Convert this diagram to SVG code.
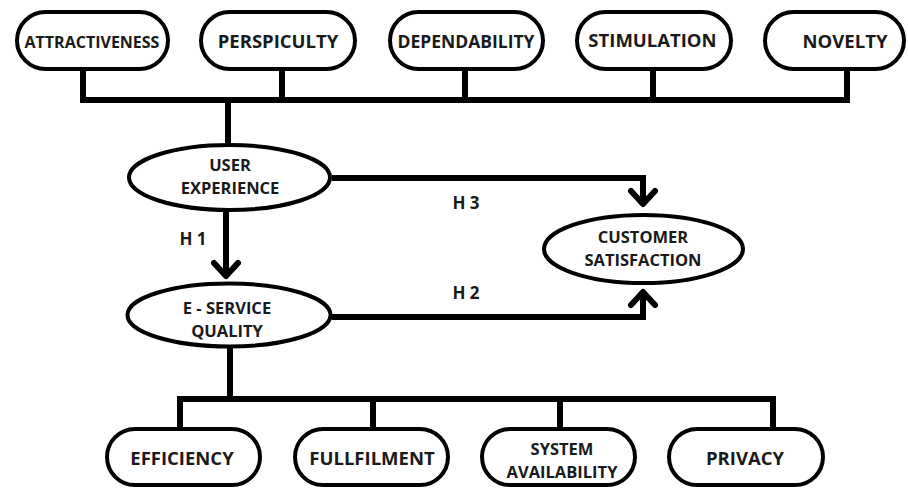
<svg xmlns="http://www.w3.org/2000/svg" width="908" height="489" viewBox="0 0 908 489">
<style>
.box{fill:#fff;stroke:#000;stroke-width:4}
.t{font-family:"Open Sans","DejaVu Sans",sans-serif;font-weight:700;font-size:18.5px;fill:#1a1a1a;text-anchor:middle}
.t2{font-size:16.5px}
.c{fill:none;stroke:#000;stroke-width:6;stroke-linejoin:miter}
.ah{fill:none;stroke:#000;stroke-width:6;stroke-linecap:round;stroke-linejoin:round}
.lbl{font-family:"Open Sans","DejaVu Sans",sans-serif;font-weight:700;font-size:17px;fill:#1a1a1a;text-anchor:middle}
</style>
<rect width="908" height="489" fill="#fff"/>
<g id="connectors">
<path class="c" d="M83 70V100M282 70V100M465 70V100M653 70V100M847 70V100M80 100H850M228 100V143"/>
<path class="c" d="M230 348V399M177 399H776M180 399V429M373 399V429M560 399V429M773 399V429"/>
<path class="c" d="M226 212V275"/>
<path class="ah" d="M214 263L226 276L238 263"/>
<path class="c" d="M332 178H643V203"/>
<path class="ah" d="M631 191L643 204L655 191"/>
<path class="c" d="M332 317H643V292"/>
<path class="ah" d="M631 305L643 292L655 305"/>
<text class="lbl" x="193" y="245">H 1</text>
<text class="lbl" x="466" y="209">H 3</text>
<text class="lbl" x="466" y="299">H 2</text>
</g>
<g id="attractiveness"><rect class="box" x="17" y="12" width="151" height="57" rx="28.5"/><text class="t" x="92" y="48" style="font-size:16px">ATTRACTIVENESS</text></g>
<g id="perspiculty"><rect class="box" x="201" y="12" width="154" height="57" rx="28.5"/><text class="t" x="278" y="48">PERSPICULTY</text></g>
<g id="dependability"><rect class="box" x="390" y="12" width="153" height="57" rx="28.5"/><text class="t" x="466" y="48" style="font-size:17.5px">DEPENDABILITY</text></g>
<g id="stimulation"><rect class="box" x="577" y="12" width="154" height="57" rx="28.5"/><text class="t" x="652.5" y="47">STIMULATION</text></g>
<g id="novelty"><rect class="box" x="765" y="12" width="139" height="57" rx="28.5"/><text class="t" x="845" y="48">NOVELTY</text></g>
<g id="user-experience"><ellipse class="box" cx="229.5" cy="177.5" rx="100.5" ry="32.5"/><text class="t t2" x="230" y="171">USER<tspan x="230" dy="22.5">EXPERIENCE</tspan></text></g>
<g id="e-service-quality"><ellipse class="box" cx="229" cy="315" rx="101.5" ry="31.5"/><text class="t t2" x="227" y="314">E - SERVICE<tspan x="227" dy="22.5">QUALITY</tspan></text></g>
<g id="customer-satisfaction"><ellipse class="box" cx="643.5" cy="249" rx="99.5" ry="34"/><text class="t t2" x="643" y="243">CUSTOMER<tspan x="643" dy="22.5">SATISFACTION</tspan></text></g>
<g id="efficiency"><rect class="box" x="107" y="429" width="153" height="56" rx="28"/><text class="t" x="182" y="465">EFFICIENCY</text></g>
<g id="fullfilment"><rect class="box" x="295" y="429" width="153" height="56" rx="28"/><text class="t" x="372" y="465">FULLFILMENT</text></g>
<g id="system-availability"><rect class="box" x="482" y="429" width="153" height="56" rx="28"/><text class="t t2" x="562" y="455">SYSTEM<tspan x="562" dy="22.5">AVAILABILITY</tspan></text></g>
<g id="privacy"><rect class="box" x="669" y="429" width="154" height="56" rx="28"/><text class="t" x="745" y="465">PRIVACY</text></g>
</svg>
